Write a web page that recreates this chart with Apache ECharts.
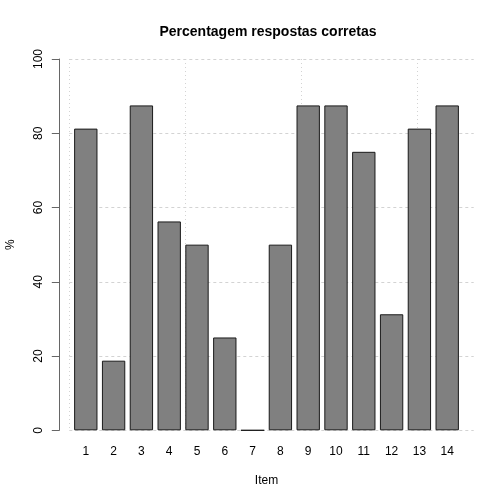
<!DOCTYPE html>
<html>
<head>
<meta charset="utf-8">
<script src="https://cdn.jsdelivr.net/npm/echarts@6/dist/echarts.min.js"></script>
<style>
  html, body { margin: 0; padding: 0; background: #fff; }
  #chart { width: 504px; height: 504px; }
</style>
</head>
<body>
<div id="chart"></div>
<script>
// dados
const items = ['1', '2', '3', '4', '5', '6', '7', '8', '9', '10', '11', '12', '13', '14']
const percent = [81.25, 18.75, 87.5, 56.25, 50, 25, 0, 50, 87.5, 87.5, 75, 31.25, 81.25, 87.5]
const gridX = [0, 5, 10, 15]

const font = "'Liberation Sans', Arial, Helvetica, sans-serif"
const chart = echarts.init(document.getElementById('chart'))

const option = {
  backgroundColor: '#ffffff',
  animation: false,
  title: {
    text: 'Percentagem respostas corretas',
    left: 263,
    top: 20,
    textAlign: 'center',
    textStyle: { fontFamily: font, fontSize: 14, fontWeight: 'bold', color: '#000' }
  },
  grid: [
    // grelha pontilhada
    { left: 69.3, top: 59, width: 404.4, height: 371.3, outerBoundsMode: 'none', containLabel: false },
    // barras
    { left: 71.9, top: 59, width: 389.2, height: 371.3, outerBoundsMode: 'none', containLabel: false }
  ],
  xAxis: [
    {
      gridIndex: 0,
      type: 'value',
      min: gridX[0],
      max: 17.43,
      interval: gridX[1] - gridX[0],
      axisLine: { show: false },
      axisTick: { show: false },
      axisLabel: { show: false },
      splitLine: {
        show: true,
        showMaxLine: false,
        lineStyle: { color: '#d3d3d3', type: [1, 3], width: 1 }
      }
    },
    {
      gridIndex: 1,
      type: 'category',
      data: items,
      name: 'Item',
      nameLocation: 'middle',
      nameGap: 44,
      nameTextStyle: { fontFamily: font, fontSize: 12, color: '#000' },
      axisLine: { show: false },
      axisTick: { show: false },
      axisLabel: { fontFamily: font, fontSize: 12, color: '#000', margin: 15 },
      splitLine: { show: false }
    }
  ],
  yAxis: [
    {
      gridIndex: 0,
      type: 'value',
      min: 0,
      max: 100,
      interval: 20,
      axisLine: { show: false },
      axisTick: { show: false },
      axisLabel: { show: false },
      splitLine: {
        show: true,
        lineStyle: { color: '#d3d3d3', type: [3, 3], width: 1 }
      }
    },
    {
      gridIndex: 1,
      type: 'value',
      min: 0,
      max: 100,
      interval: 20,
      offset: 12.6,
      name: '%',
      nameLocation: 'middle',
      nameGap: 43,
      nameTextStyle: { fontFamily: font, fontSize: 12, color: '#000' },
      axisLine: { show: true, lineStyle: { color: '#666', width: 1 } },
      axisTick: { show: true, length: 7.5, lineStyle: { color: '#666', width: 1 } },
      axisLabel: { fontFamily: font, fontSize: 12, color: '#000', rotate: 90, margin: 15 },
      splitLine: { show: false }
    }
  ],
  series: [{
    type: 'bar',
    xAxisIndex: 1,
    yAxisIndex: 1,
    data: percent,
    barCategoryGap: '16%',
    itemStyle: { color: '#808080', borderColor: '#1a1a1a', borderWidth: 1 }
  }]
}

chart.setOption(option)
</script>
</body>
</html>
